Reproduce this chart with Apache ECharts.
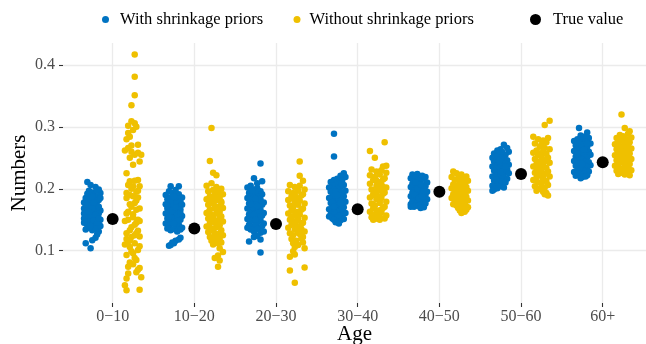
<!DOCTYPE html>
<html>
<head>
<meta charset="utf-8">
<script src="https://cdn.jsdelivr.net/npm/echarts@6/dist/echarts.min.js"></script>
<style>
  html, body { margin: 0; padding: 0; background: #ffffff; }
  #chart { width: 646px; height: 344px; }
</style>
</head>
<body>
<div id="chart"></div>
<script>
// Age groups shown on the x axis
const ageGroups = ['0−10', '10−20', '20−30', '30−40', '40−50', '50−60', '60+'];
const yTicks = [0.1, 0.2, 0.3, 0.4];

// True parameter value for each age group
const trueValues = [0.151, 0.136, 0.143, 0.167, 0.195, 0.224, 0.243];

// Estimates per simulation run: [jitter step (-5..5), estimate]
const withShrink_0_10 = [
  [-3,0.211],[-1,0.206],[2,0.203],[4,0.199],[-4,0.112],[-1,0.104],[0,0.117],[2,0.121],[3,0.126],[4,0.131],
  [-5,0.178],[-4,0.185],[-3,0.192],[-2,0.197],[0,0.194],[1,0.190],[3,0.188],[5,0.193],[4,0.182],[2,0.180],
  [-1,0.184],[-3,0.176],[-5,0.168],[-2,0.172],[0,0.175],[1,0.170],[3,0.173],[5,0.165],[-4,0.162],[-1,0.165],
  [2,0.166],[4,0.160],[-3,0.158],[0,0.160],[-5,0.152],[-2,0.155],[1,0.156],[3,0.153],[5,0.150],[-4,0.147],
  [-1,0.148],[2,0.146],[4,0.143],[-3,0.141],[0,0.142],[-5,0.145],[-2,0.137],[1,0.139],[3,0.136],[-4,0.134],
  [0,0.133],[2,0.135],[5,0.140],[-1,0.157],[4,0.171],[-2,0.183],[1,0.178],[3,0.198],[-3,0.164],[0,0.187],
  [2,0.158],[-4,0.175],[5,0.185],[-1,0.140],[1,0.149],[-5,0.160],[3,0.145],[0,0.168],[-2,0.163],[4,0.152]
];
const noShrink_0_10 = [
  [1,0.417],[1,0.381],[1,0.351],[-1,0.335],[-1,0.309],[1,0.306],[-3,0.302],[2,0.300],[0,0.295],[-2,0.284],
  [-4,0.280],[3,0.271],[-3,0.266],[-5,0.262],[-1,0.260],[1,0.255],[5,0.255],[-2,0.250],[0,0.239],[-4,0.225],
  [3,0.214],[-2,0.212],[-3,0.206],[4,0.204],[0,0.204],[2,0.195],[-2,0.190],[0,0.188],[3,0.186],[-4,0.185],
  [1,0.177],[-1,0.171],[2,0.166],[-4,0.160],[0,0.159],[-3,0.150],[3,0.150],[-5,0.148],[1,0.142],[4,0.148],
  [-2,0.133],[-4,0.128],[2,0.128],[4,0.123],[-1,0.122],[-3,0.115],[1,0.112],[-5,0.110],[4,0.107],[-2,0.106],
  [0,0.096],[-4,0.093],[2,0.085],[-2,0.081],[0,0.078],[4,0.072],[-3,0.074],[3,0.069],[-4,0.055],[5,0.057],
  [-5,0.044],[-4,0.036],[4,0.037],
  [1,0.213],[-1,0.200],[3,0.197],[-4,0.193],[2,0.181],[-2,0.175],[4,0.168],[-3,0.163],[0,0.154],[2,0.145],
  [-1,0.138],[3,0.132],[-4,0.119],[1,0.125],[-2,0.117],[3,0.101],[-1,0.099],[1,0.088],[-3,0.063],[2,0.065],
  [-1,0.270],[3,0.258],[-3,0.290],[4,0.244]
];

const withShrink_10_20 = [
  [-2,0.204],[3,0.204],
  [-5,0.190],[-3,0.196],[-1,0.193],[1,0.189],[3,0.191],[5,0.186],[-4,0.183],[-2,0.186],[0,0.181],[2,0.184],
  [4,0.179],[-5,0.175],[-3,0.178],[-1,0.172],[1,0.176],[3,0.171],[5,0.174],[-4,0.168],[-2,0.165],[0,0.169],
  [2,0.163],[4,0.166],[-5,0.160],[-3,0.162],[-1,0.158],[1,0.155],[3,0.159],[5,0.156],[-4,0.152],[-2,0.149],
  [0,0.153],[2,0.147],[4,0.150],[-5,0.144],[-3,0.141],[-1,0.145],[1,0.139],[3,0.142],[5,0.137],[-4,0.136],
  [-2,0.133],[0,0.135],[2,0.131],[4,0.134],[-1,0.164],[1,0.170],[-3,0.155],[3,0.149],[0,0.188],[-2,0.177],
  [2,0.158],[0,0.144],[-4,0.173],[4,0.160],[1,0.198],
  [4,0.121],[3,0.118],[1,0.116],[-1,0.113],[-2,0.109],[-3,0.108],[0,0.112]
];
const noShrink_10_20 = [
  [-2,0.298],[-3,0.245],[-1,0.226],[1,0.222],
  [-5,0.205],[-2,0.209],[1,0.203],[4,0.200],[-4,0.196],[-1,0.198],[2,0.194],[5,0.191],[-3,0.188],[0,0.190],
  [3,0.185],[-5,0.183],[-2,0.180],[1,0.182],[4,0.177],[-4,0.174],[-1,0.176],[2,0.171],[5,0.169],[-3,0.166],
  [0,0.168],[3,0.163],[-5,0.161],[-2,0.158],[1,0.160],[4,0.155],[-4,0.152],[-1,0.154],[2,0.149],[5,0.147],
  [-3,0.144],[0,0.146],[3,0.141],[-5,0.139],[-2,0.136],[1,0.138],[4,0.133],[-4,0.130],[-1,0.132],[2,0.127],
  [5,0.125],[-3,0.122],[0,0.124],[3,0.119],[-2,0.116],[1,0.118],[4,0.113],[-1,0.110],[2,0.112],
  [0,0.172],[-3,0.150],[3,0.157],[-1,0.186],[1,0.142],[0,0.128],[-4,0.162],[4,0.179],
  [3,0.104],[5,0.098],[2,0.092],[0,0.088],[3,0.084],[2,0.074]
];

const withShrink_20_30 = [
  [3,0.241],[-1,0.217],[4,0.212],[1,0.209],
  [-5,0.202],[-3,0.205],[-1,0.199],[1,0.201],[3,0.196],[-4,0.193],[-2,0.190],[0,0.194],[2,0.188],[4,0.191],
  [-5,0.185],[-3,0.182],[-1,0.186],[1,0.180],[3,0.183],[5,0.178],[-4,0.176],[-2,0.173],[0,0.177],[2,0.171],
  [4,0.174],[-5,0.168],[-3,0.165],[-1,0.169],[1,0.163],[3,0.166],[5,0.161],[-4,0.159],[-2,0.156],[0,0.160],
  [2,0.154],[4,0.157],[-5,0.151],[-3,0.148],[-1,0.152],[1,0.146],[3,0.149],[5,0.144],[-4,0.142],[-2,0.139],
  [0,0.143],[2,0.137],[4,0.140],[-3,0.134],[-1,0.131],[1,0.135],[3,0.129],[-5,0.137],
  [0,0.184],[-2,0.197],[2,0.162],[-1,0.158],[1,0.172],[-3,0.175],[3,0.155],[0,0.150],
  [5,0.131],[-1,0.122],[3,0.118],[-4,0.115],[1,0.124],[3,0.097]
];
const noShrink_20_30 = [
  [2,0.244],[2,0.221],[4,0.213],
  [-4,0.206],[-1,0.203],[2,0.205],[5,0.199],[-5,0.196],[-2,0.193],[1,0.197],[4,0.191],[-3,0.188],[0,0.185],
  [3,0.189],[-5,0.182],[-1,0.179],[2,0.181],[5,0.176],[-4,0.173],[-2,0.170],[1,0.174],[4,0.168],[-3,0.165],
  [0,0.162],[3,0.166],[-5,0.160],[-1,0.157],[2,0.159],[5,0.153],[-4,0.150],[-2,0.147],[1,0.151],[4,0.145],
  [-3,0.142],[0,0.139],[3,0.143],[-5,0.137],[-1,0.134],[2,0.136],[5,0.131],[-4,0.128],[-2,0.125],[1,0.129],
  [4,0.122],[-3,0.119],[0,0.116],[3,0.120],[-2,0.112],[1,0.109],[4,0.113],[-1,0.106],
  [0,0.178],[-3,0.155],[3,0.135],[-1,0.190],[1,0.163],[0,0.148],[-2,0.184],[2,0.127],
  [5,0.104],[-2,0.099],[-4,0.090],[-1,0.094],[5,0.073],[-4,0.068],[-1,0.048]
];

const withShrink_30_40 = [
  [-2,0.289],[-2,0.252],
  [4,0.225],[2,0.221],[5,0.219],[0,0.216],[-2,0.214],[-4,0.211],[3,0.213],[1,0.209],[-1,0.207],[-3,0.205],
  [-5,0.202],[4,0.206],[2,0.203],[0,0.200],[-2,0.198],[-4,0.195],[5,0.197],[3,0.194],[1,0.192],[-1,0.190],
  [-3,0.187],[-5,0.185],[4,0.188],[2,0.184],[0,0.182],[-2,0.180],[-4,0.177],[5,0.179],[3,0.176],[1,0.174],
  [-1,0.172],[-3,0.169],[-5,0.167],[4,0.170],[2,0.166],[0,0.164],[-2,0.162],[-4,0.159],[5,0.161],[3,0.158],
  [1,0.156],[-1,0.154],[-3,0.152],[-5,0.155],[4,0.151],[2,0.149],[0,0.147],[-2,0.150],
  [1,0.183],[-1,0.195],[-3,0.178],[3,0.168],[0,0.190],[-2,0.171],[2,0.177],
  [1,0.144],[-1,0.146]
];
const noShrink_30_40 = [
  [4,0.275],[-5,0.261],[-2,0.250],[5,0.237],[3,0.236],
  [-4,0.231],[-1,0.228],[2,0.230],[5,0.226],[-5,0.222],[-2,0.219],[1,0.223],[4,0.217],[-3,0.214],[0,0.211],
  [3,0.215],[-5,0.208],[-1,0.205],[2,0.207],[5,0.202],[-4,0.199],[-2,0.196],[1,0.200],[4,0.194],[-3,0.191],
  [0,0.188],[3,0.192],[-5,0.186],[-1,0.183],[2,0.185],[5,0.179],[-4,0.176],[-2,0.173],[1,0.177],[4,0.171],
  [-3,0.168],[0,0.165],[3,0.169],[-5,0.163],[-1,0.160],[2,0.162],[5,0.157],[-4,0.154],[-2,0.151],[1,0.155],
  [4,0.152],[-3,0.158],
  [0,0.197],[-1,0.213],[1,0.181],[3,0.203],[-3,0.174],[0,0.160],[-2,0.189],[2,0.166],
  [-3,0.150],[1,0.150]
];

const withShrink_40_50 = [
  [-4,0.223],[-1,0.224],[2,0.221],[4,0.219],[-5,0.217],[-2,0.218],[1,0.215],[3,0.216],[-3,0.212],[0,0.213],
  [5,0.210],[-4,0.208],[-1,0.209],[2,0.206],[4,0.204],[-5,0.203],[-2,0.201],[1,0.202],[3,0.199],[-3,0.197],
  [0,0.198],[5,0.195],[-4,0.194],[-1,0.192],[2,0.193],[4,0.190],[-5,0.188],[-2,0.189],[1,0.186],[3,0.187],
  [-3,0.184],[0,0.182],[5,0.183],[-4,0.180],[-1,0.178],[2,0.179],[4,0.176],[-5,0.175],[-2,0.173],[1,0.174],
  [-3,0.171],[0,0.172],[3,0.170],
  [-1,0.200],[1,0.207],[-3,0.191],[3,0.196],[0,0.185],[-2,0.210],[2,0.188],
  [1,0.169],[-5,0.171]
];
const noShrink_40_50 = [
  [-4,0.228],[-2,0.225],[1,0.223],[4,0.220],[-5,0.219],[-1,0.217],[2,0.215],[5,0.213],[-3,0.214],[0,0.211],
  [3,0.209],[-4,0.207],[-2,0.205],[1,0.206],[4,0.203],[-5,0.201],[-1,0.199],[2,0.200],[5,0.197],[-3,0.195],
  [0,0.196],[3,0.193],[-4,0.191],[-2,0.189],[1,0.190],[4,0.187],[-5,0.185],[-1,0.183],[2,0.184],[5,0.181],
  [-3,0.179],[0,0.180],[3,0.177],[-4,0.175],[-2,0.173],[1,0.174],[4,0.171],[-1,0.169],[2,0.167],[5,0.170],
  [0,0.165],[3,0.163],[1,0.161],[4,0.166],
  [-2,0.198],[2,0.208],[-3,0.186],[0,0.202],[3,0.176],[-1,0.192]
];

const withShrink_50_60 = [
  [2,0.271],[4,0.266],[0,0.264],[-2,0.262],[5,0.260],[-4,0.257],[1,0.259],[3,0.255],[-1,0.256],[-3,0.252],
  [-5,0.250],[0,0.251],[2,0.248],[4,0.246],[-2,0.247],[-4,0.244],[1,0.243],[3,0.241],[5,0.239],[-1,0.240],
  [-3,0.237],[-5,0.236],[0,0.235],[2,0.233],[4,0.231],[-2,0.232],[-4,0.229],[1,0.228],[3,0.226],[5,0.225],
  [-1,0.224],[-3,0.222],[-5,0.220],[0,0.219],[2,0.217],[4,0.216],[-2,0.215],[-4,0.213],[1,0.212],[3,0.210],
  [-1,0.209],[-3,0.207],[-5,0.205],[0,0.204],[2,0.202],[-2,0.201],[-4,0.199],[-5,0.197],
  [1,0.221],[-1,0.245],[3,0.236],[0,0.227],[-3,0.214]
];
const noShrink_50_60 = [
  [5,0.310],[2,0.303],[-5,0.284],[4,0.282],
  [-2,0.280],[1,0.278],[3,0.275],[-4,0.273],[0,0.271],[-1,0.268],[2,0.266],[5,0.264],[-3,0.262],[1,0.260],
  [-5,0.258],[3,0.256],[-2,0.254],[0,0.252],[4,0.250],[-4,0.248],[2,0.246],[-1,0.244],[5,0.242],[-3,0.240],
  [1,0.238],[-5,0.236],[3,0.234],[-2,0.232],[0,0.230],[4,0.228],[-4,0.226],[2,0.224],[-1,0.222],[5,0.220],
  [-3,0.218],[1,0.216],[-5,0.214],[3,0.212],[-2,0.210],[0,0.208],[4,0.206],[-4,0.204],[2,0.202],[-1,0.200],
  [-3,0.197],[1,0.195],[3,0.193],[4,0.189],[2,0.191],
  [0,0.240],[-2,0.225],[3,0.245],[-1,0.257],[1,0.217],[-3,0.233]
];

const withShrink_60plus = [
  [-2,0.298],[3,0.291],[1,0.284],[-1,0.286],[4,0.282],[-3,0.280],[0,0.278],[2,0.276],[-5,0.277],[5,0.273],
  [-2,0.274],[-4,0.270],[1,0.271],[3,0.268],[-1,0.266],[-3,0.264],[0,0.262],[4,0.260],[2,0.259],[-5,0.261],
  [-2,0.257],[5,0.255],[1,0.254],[-4,0.252],[3,0.251],[-1,0.249],[0,0.247],[-3,0.246],[2,0.244],[4,0.243],
  [-5,0.245],[-2,0.241],[1,0.239],[5,0.238],[-4,0.237],[3,0.235],[-1,0.234],[0,0.232],[-3,0.230],[2,0.229],
  [4,0.228],[-5,0.227],[-2,0.225],[1,0.224],[3,0.222],[-4,0.221],[0,0.219],[-1,0.217],[2,0.220],
  [-3,0.256],[1,0.263],[0,0.240],[3,0.273]
];
const noShrink_60plus = [
  [-1,0.320],[1,0.298],[4,0.293],[3,0.289],[-2,0.287],[0,0.285],[5,0.283],[-4,0.282],[2,0.280],[-1,0.278],
  [-3,0.276],[4,0.275],[1,0.273],[-5,0.272],[3,0.270],[-2,0.269],[0,0.267],[5,0.265],[-4,0.264],[2,0.262],
  [-1,0.261],[-3,0.259],[4,0.257],[1,0.256],[-5,0.254],[3,0.253],[-2,0.251],[0,0.249],[5,0.248],[-4,0.246],
  [2,0.245],[-1,0.243],[-3,0.241],[4,0.240],[1,0.238],[-5,0.237],[3,0.235],[-2,0.233],[0,0.232],[5,0.230],
  [-4,0.229],[2,0.227],[-1,0.226],[-3,0.224],[4,0.222],[1,0.223],
  [0,0.258],[-2,0.244],[3,0.266],[-1,0.252],[2,0.236]
];

const withShrinkGroups = [withShrink_0_10, withShrink_10_20, withShrink_20_30, withShrink_30_40,
  withShrink_40_50, withShrink_50_60, withShrink_60plus];
const noShrinkGroups = [noShrink_0_10, noShrink_10_20, noShrink_20_30, noShrink_30_40,
  noShrink_40_50, noShrink_50_60, noShrink_60plus];

// dodge offset of each estimator from the group centre, and the jitter step width (axis units)
const DODGE = 0.25;
const JITTER_STEP = 0.02;

function toPoints(groups, side) {
  const out = [];
  groups.forEach((pts, gi) => {
    pts.forEach(([j, v]) => out.push([gi + 1 + side * DODGE + j * JITTER_STEP, v]));
  });
  return out;
}

const BLUE = '#0073C2';
const GOLD = '#EFC000';
const FONT = 'Liberation Serif';
const tickPositions = ageGroups.map((_, i) => i + 1);

const chart = echarts.init(document.getElementById('chart'), null, { renderer: 'canvas' });

chart.setOption({
  animation: false,
  backgroundColor: '#ffffff',
  textStyle: { fontFamily: FONT },
  grid: { left: 63, right: 0, top: 43, bottom: 41, containLabel: false, outerBoundsMode: 'none' },
  legend: [
    {
      data: [{ name: 'With shrinkage priors', icon: 'circle' }],
      left: 97, top: 6, itemWidth: 7, itemHeight: 7,
      textStyle: { fontFamily: FONT, fontSize: 16.5, color: '#000', padding: [0, 0, 0, 6] }
    },
    {
      data: [{ name: 'Without shrinkage priors', icon: 'circle' }],
      left: 288.5, top: 6, itemWidth: 7, itemHeight: 7,
      textStyle: { fontFamily: FONT, fontSize: 16.5, color: '#000', padding: [0, 0, 0, 4] }
    },
    {
      data: [{ name: 'True value', icon: 'circle' }],
      left: 525, top: 6, itemWidth: 11, itemHeight: 11,
      textStyle: { fontFamily: FONT, fontSize: 16.5, color: '#000', padding: [0, 0, 0, 7] }
    }
  ],
  xAxis: {
    type: 'value',
    min: 0.392, max: 7.53,
    name: 'Age', nameLocation: 'middle', nameGap: 21, nameMoveOverlap: false,
    nameTextStyle: { fontFamily: FONT, fontSize: 21, color: '#000' },
    axisLine: { show: false },
    axisTick: { show: true, customValues: tickPositions, length: 4, lineStyle: { color: '#333333', width: 1.1 } },
    axisLabel: {
      customValues: tickPositions, margin: 6,
      fontFamily: FONT, fontSize: 16, color: '#4D4D4D',
      formatter: v => ageGroups[Math.round(v) - 1]
    },
    splitLine: { show: true, lineStyle: { color: '#EBEBEB', width: 1.3 } }
  },
  yAxis: {
    type: 'value',
    min: 0.01545, max: 0.4355,
    name: 'Numbers', nameLocation: 'middle', nameGap: 33, nameRotate: 90, nameMoveOverlap: false,
    nameTextStyle: { fontFamily: FONT, fontSize: 21, color: '#000' },
    axisLine: { show: false },
    axisTick: { show: true, customValues: yTicks, length: 4, lineStyle: { color: '#333333', width: 1.1 } },
    axisLabel: {
      customValues: yTicks, margin: 8,
      fontFamily: FONT, fontSize: 16, color: '#4D4D4D',
      formatter: v => v.toFixed(1)
    },
    splitLine: { show: true, lineStyle: { color: '#EBEBEB', width: 1.3 } }
  },
  series: [
    {
      name: 'With shrinkage priors', type: 'scatter', symbol: 'circle', symbolSize: 6.5,
      itemStyle: { color: BLUE, opacity: 1 },
      data: toPoints(withShrinkGroups, -1)
    },
    {
      name: 'Without shrinkage priors', type: 'scatter', symbol: 'circle', symbolSize: 6.5,
      itemStyle: { color: GOLD, opacity: 1 },
      data: toPoints(noShrinkGroups, 1)
    },
    {
      name: 'True value', type: 'scatter', symbol: 'circle', symbolSize: 12,
      itemStyle: { color: '#000000', opacity: 1 },
      data: trueValues.map((v, i) => [i + 1, v])
    }
  ]
});
</script>
</body>
</html>
